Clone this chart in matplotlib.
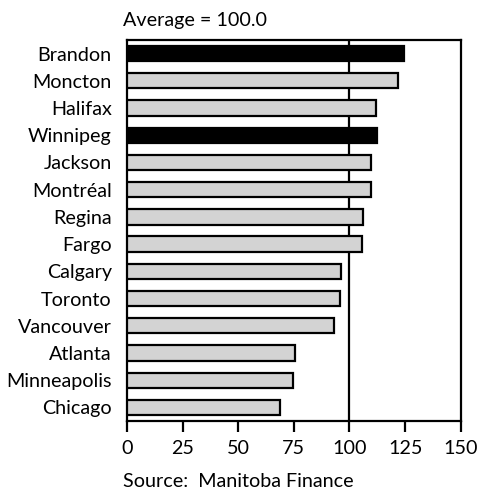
import matplotlib.pyplot as plt
import numpy as np

# cost index by city, average = 100
cities = ["Brandon", "Moncton", "Halifax", "Winnipeg", "Jackson", "Montréal",
          "Regina", "Fargo", "Calgary", "Toronto", "Vancouver", "Atlanta",
          "Minneapolis", "Chicago"]
values = [124.5, 121.7, 112.0, 112.2, 109.8, 109.8, 106.1, 105.8, 96.3, 95.6,
          93.0, 75.4, 74.8, 68.8]
manitoba = ["Brandon", "Winnipeg"]

plt.rcParams['font.family'] = ['Lato', 'DejaVu Sans']

fig = plt.figure(figsize=(4.8, 4.9), dpi=100)
ax = fig.add_axes([0.2646, 0.1408, 0.6952, 0.7776])

y = np.arange(len(cities))
colors = ["black" if c in manitoba else "#d3d3d3" for c in cities]
ax.barh(y, values, height=0.56, color=colors, edgecolor="black", linewidth=1.6, zorder=3)
ax.axvline(100, color="black", linewidth=1.6, zorder=1)

ax.set_xlim(0, 150)
ax.set_ylim(len(cities) - 0.5, -0.5)
ax.set_xticks([0, 25, 50, 75, 100, 125, 150])
ax.set_yticks(y)
ax.set_yticklabels(cities, fontsize=14.2)
ax.tick_params(axis="y", length=0, pad=11)
ax.tick_params(axis="x", length=8, width=1.6, labelsize=14.2, pad=6)
for s in ax.spines.values():
    s.set_linewidth(1.6)

fig.text(0.256, 0.958, "Average = 100.0", fontsize=14.2, va="center", ha="left")
fig.text(0.256, 0.018, "Source:  Manitoba Finance", fontsize=14.2, va="center", ha="left")

fig.savefig("out.png", dpi=100)
